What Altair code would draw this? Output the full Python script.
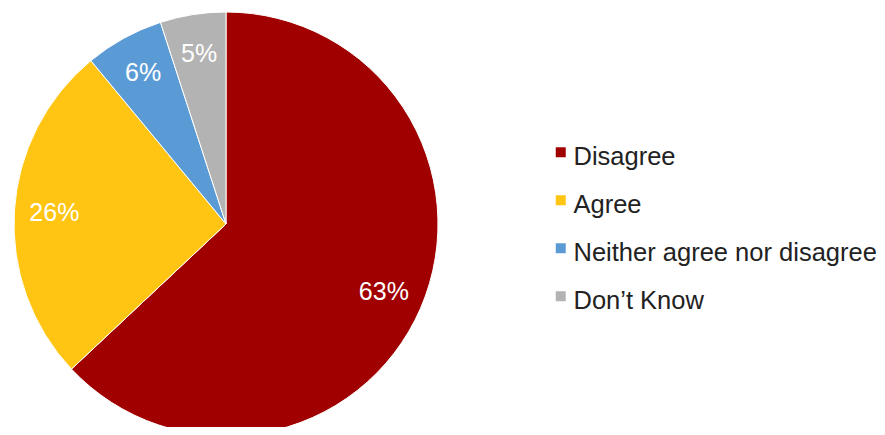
import altair as alt
import pandas as pd

categories = ["Disagree", "Agree", "Neither agree nor disagree", "Don\u2019t Know"]
values = [63, 26, 6, 5]
labels = ["63%", "26%", "6%", "5%"]
colors = ["#A00000", "#FFC512", "#5B9BD5", "#B3B3B3"]

df = pd.DataFrame({"category": categories, "value": values, "label": labels, "order": list(range(len(values)))})

FONT = "Liberation Sans"
cx, cy = 218, 216

base = alt.Chart(df).encode(
    theta=alt.Theta("value:Q", stack=True),
    order=alt.Order("order:Q"),
    x=alt.value(cx),
    y=alt.value(cy),
)

arcs = base.mark_arc(outerRadius=212, stroke="white", strokeWidth=1).encode(
    color=alt.Color(
        "category:N",
        scale=alt.Scale(domain=categories, range=colors),
        legend=alt.Legend(
            title=None,
            orient="none",
            legendX=540,
            legendY=136,
            padding=0,
            symbolType="M-1,-1.9L1,-1.9L1,0.1L-1,0.1Z",
            symbolSize=100,
            symbolStrokeWidth=0,
            labelFont=FONT,
            labelFontSize=25.5,
            labelColor="#222222",
            labelOffset=0,
            rowPadding=21,
            labelLimit=400,
        ),
    )
)

text = base.mark_text(radius=172, font=FONT, fontSize=25, color="white").encode(
    text="label:N"
)

chart = (arcs + text).properties(
    width=869,
    height=419,
    autosize=alt.AutoSizeParams(type="none"),
    padding=0,
).configure_view(stroke=None)

chart.save("out.html", embed_options={"renderer": "svg", "actions": False})
